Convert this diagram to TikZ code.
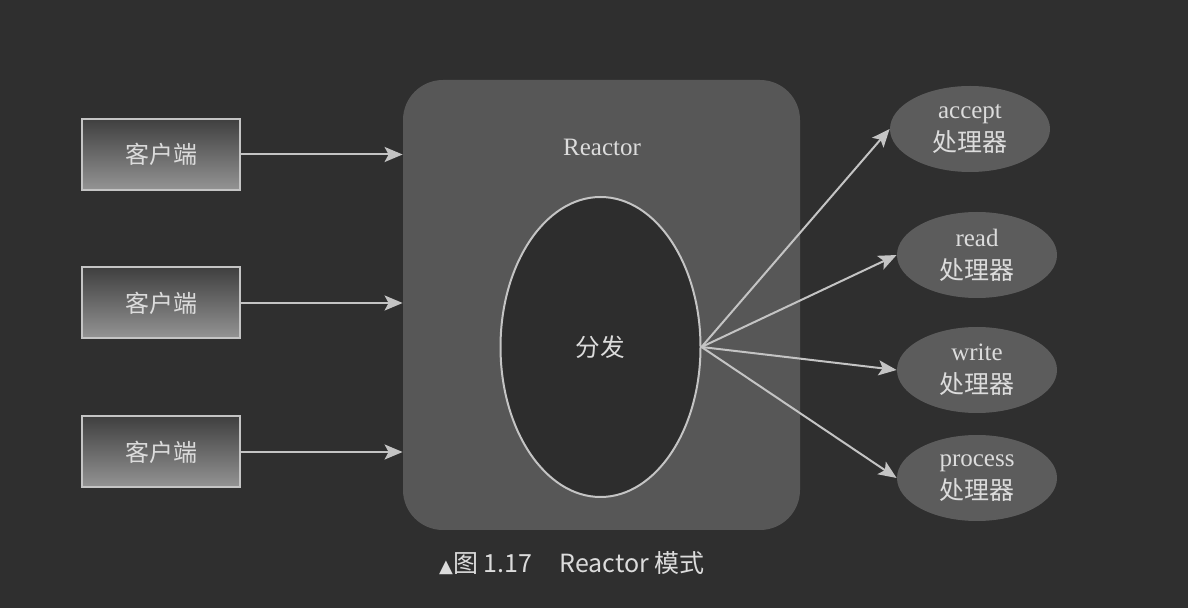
\documentclass[tikz,border=0pt]{standalone}
\usepackage{fontspec}
\usepackage{tikz}
\usetikzlibrary{arrows.meta,shapes.geometric}
\setmainfont{Liberation Serif}
\newfontfamily\cjk{Noto Sans CJK SC}
\newfontfamily\symfont{DejaVu Sans}

\definecolor{bgdark}{HTML}{2F2F2F}
\definecolor{reactorgray}{HTML}{575757}
\definecolor{handlergray}{HTML}{5C5C5C}
\definecolor{linegray}{HTML}{C4C4C4}
\definecolor{textgray}{HTML}{DCDCDC}

\tikzset{
  client/.style={draw=linegray, line width=1pt, top color=black!75, bottom color=black!42,
    minimum width=79pt, minimum height=35.5pt, text=textgray, font=\cjk\fontsize{12}{14}\selectfont},
  handler/.style={ellipse, fill=handlergray, minimum width=80pt, minimum height=43pt,
    inner sep=0pt, text=textgray, align=center, font=\fontsize{12.5}{16.5}\selectfont},
  arr/.style={draw=linegray, line width=1pt, -{Stealth[length=9pt,width=7.5pt,inset=2pt]}, color=linegray}
}

\begin{document}
\begin{tikzpicture}[x=0.5pt,y=-0.5pt]
  \fill[bgdark] (0,0) rectangle (1188,608);

  % reactor
  \node[fill=reactorgray, rounded corners=20pt, minimum width=198.5pt, minimum height=225pt] (reactor) at (601.5,305) {};
  \node[text=textgray, font=\fontsize{12.5}{14}\selectfont] (title) at (602,147) {Reactor};
  \node[ellipse, draw=linegray, line width=1pt, fill=bgdark!95!black, minimum width=100pt, minimum height=150pt,
    text=textgray, font=\cjk\fontsize{12.3}{14}\selectfont] (fenfa) at (600.5,347) {分发};

  % clients
  \node[client] (c1) at (161,154.5) {客户端};
  \node[client] (c2) at (161,303) {客户端};
  \node[client] (c3) at (161,452) {客户端};

  \draw[arr] (c1.east) -- (c1.east -| reactor.west);
  \draw[arr] (c2.east) -- (c2.east -| reactor.west);
  \draw[arr] (c3.east) -- (c3.east -| reactor.west);

  % handlers
  \node[handler] (accept) at (970,129) {accept\\{\cjk 处理器}};
  \node[handler] (read) at (977,255) {read\\{\cjk 处理器}};
  \node[handler] (write) at (977,370) {write\\{\cjk 处理器}};
  \node[handler] (process) at (977,478) {process\\{\cjk 处理器}};

  \draw[arr] (fenfa.east) -- (accept.west);
  \draw[arr] (fenfa.east) -- (read.west);
  \draw[arr] (fenfa.east) -- (write.west);
  \draw[arr] (fenfa.east) -- (process.west);

  % caption
  \node[text=textgray, font=\cjk\fontsize{12.5}{14}\selectfont] (caption) at (572,563)
    {{\symfont\fontsize{9}{10}\selectfont ▲}图 1.17\hspace{1.1em}Reactor 模式};
\end{tikzpicture}
\end{document}
